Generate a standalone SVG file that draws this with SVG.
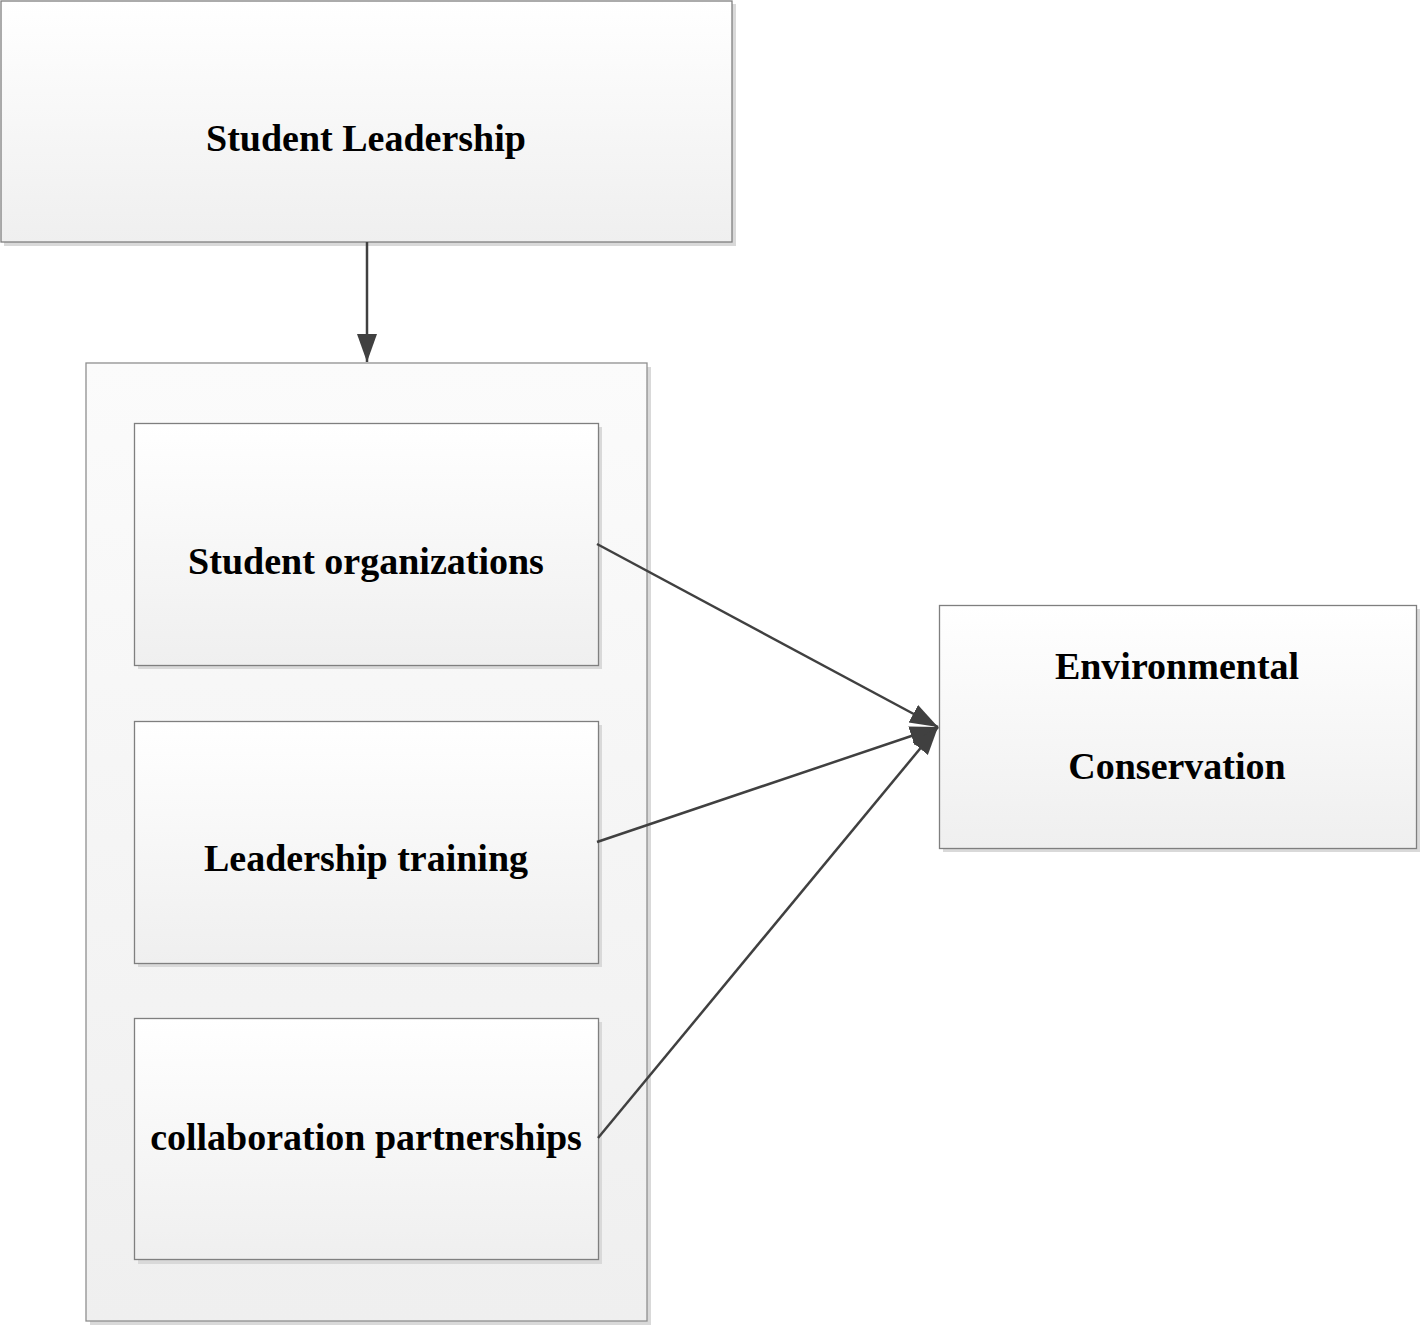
<svg xmlns="http://www.w3.org/2000/svg" width="1421" height="1325" viewBox="0 0 1421 1325">
<style>
.box{stroke:#7f7f7f;stroke-width:1.3;fill:url(#g)}
.sh{fill:#d9d9d9}
.lbl{font-family:"Liberation Serif","Times New Roman",serif;font-weight:bold;font-size:38px;fill:#000;text-anchor:middle}
.con{stroke:#404040;stroke-width:2.5;fill:none;marker-end:url(#ah)}
</style>
<defs>
<linearGradient id="g" x1="0" y1="0" x2="0" y2="1">
<stop offset="0" stop-color="#ffffff"/>
<stop offset="1" stop-color="#efefef"/>
</linearGradient>
<linearGradient id="gc" x1="0" y1="0" x2="0" y2="1">
<stop offset="0" stop-color="#fbfbfb"/>
<stop offset="1" stop-color="#efefef"/>
</linearGradient>
<marker id="ah" markerUnits="userSpaceOnUse" markerWidth="30" markerHeight="22" refX="28" refY="10" orient="auto" viewBox="0 0 30 22">
<path d="M0,0 L28,10 L0,20 Z" fill="#404040"/>
</marker>
</defs>
<rect width="1421" height="1325" fill="#ffffff"/>
<g id="student-leadership">
<rect class="sh" x="4" y="4" width="732" height="242"/>
<rect class="box" x="1" y="1" width="731" height="241"/>
<text class="lbl" x="366" y="151">Student Leadership</text>
</g>
<g id="group-container">
<rect class="sh" x="90" y="367" width="561" height="958"/>
<rect x="86" y="363" width="561" height="958" fill="url(#gc)" stroke="#8f8f8f" stroke-width="1.3"/>
</g>
<g id="student-organizations">
<rect class="sh" x="138" y="427" width="464" height="242"/>
<rect class="box" x="134.5" y="423.5" width="464" height="242"/>
<text class="lbl" x="366" y="574">Student organizations</text>
</g>
<g id="leadership-training">
<rect class="sh" x="138" y="725" width="464" height="242"/>
<rect class="box" x="134.5" y="721.5" width="464" height="242"/>
<text class="lbl" x="366" y="871">Leadership training</text>
</g>
<g id="collaboration-partnerships">
<rect class="sh" x="138" y="1022" width="464" height="242"/>
<rect class="box" x="134.5" y="1018.5" width="464" height="241"/>
<text class="lbl" x="366" y="1150">collaboration partnerships</text>
</g>
<g id="environmental-conservation">
<rect class="sh" x="943" y="609" width="477" height="243"/>
<rect class="box" x="939.5" y="605.5" width="477" height="243"/>
<text class="lbl" x="1177" y="679">Environmental</text>
<text class="lbl" x="1177" y="779">Conservation</text>
</g>
<g id="connectors">
<line class="con" x1="367" y1="242" x2="367" y2="362"/>
<line class="con" x1="597" y1="544" x2="938" y2="727"/>
<line class="con" x1="597" y1="842" x2="938" y2="727"/>
<line class="con" x1="598" y1="1138" x2="938" y2="727"/>
</g>
</svg>
